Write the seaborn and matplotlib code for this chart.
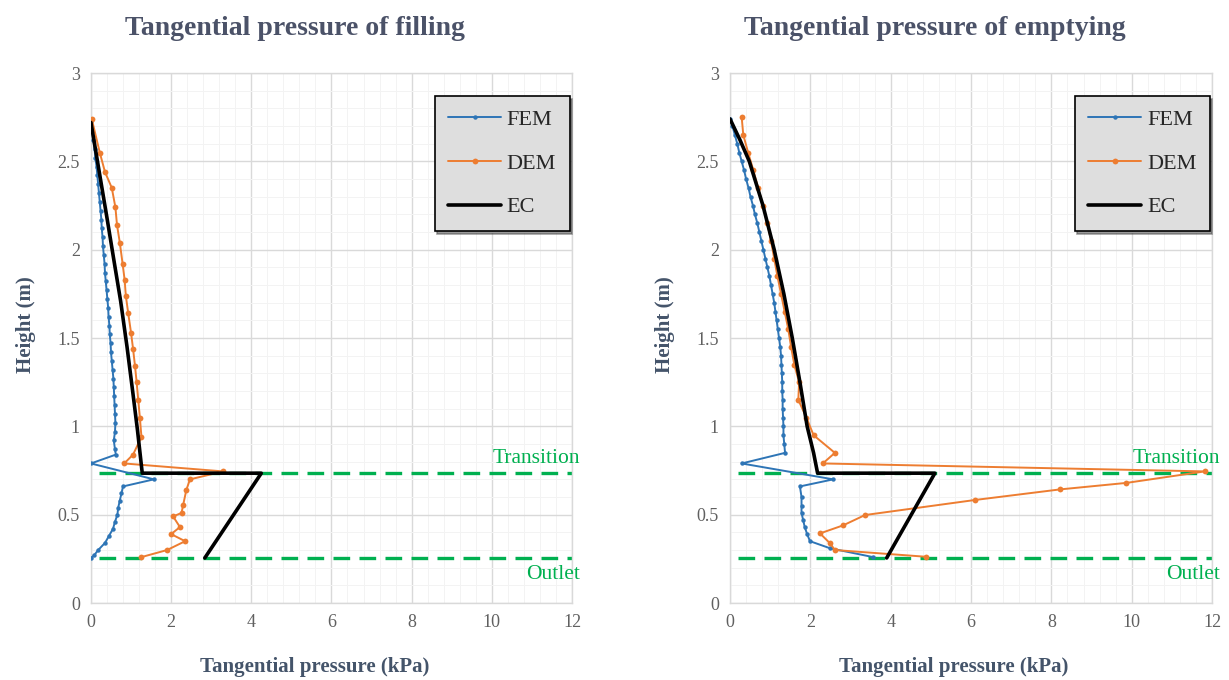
import numpy as np
import matplotlib
matplotlib.use("Agg")
import matplotlib.pyplot as plt
from matplotlib.ticker import MultipleLocator, FuncFormatter
import seaborn as sns

# ---- data (pressure in kPa, height in m) ----
# filling
fill_fem_p = [0.00, 0.03, 0.06, 0.09, 0.11, 0.14, 0.16, 0.18, 0.20, 0.22, 0.24, 0.26, 0.27,
              0.29, 0.30, 0.32, 0.34, 0.35, 0.37, 0.39, 0.41, 0.43, 0.44, 0.46, 0.47, 0.49,
              0.50, 0.52, 0.54, 0.56, 0.57, 0.58, 0.59, 0.60, 0.61, 0.60, 0.57, 0.60, 0.62,
              0.00, 1.57, 0.80, 0.76, 0.72, 0.68, 0.66, 0.60, 0.55, 0.45, 0.35, 0.18, 0.08, 0.00]
fill_fem_h = [2.72, 2.67, 2.62, 2.57, 2.52, 2.47, 2.42, 2.37, 2.32, 2.27, 2.22, 2.17, 2.12,
              2.07, 2.02, 1.97, 1.92, 1.87, 1.82, 1.77, 1.72, 1.67, 1.62, 1.57, 1.52, 1.47,
              1.42, 1.37, 1.32, 1.27, 1.22, 1.17, 1.12, 1.07, 1.02, 0.97, 0.92, 0.87, 0.84,
              0.79, 0.70, 0.66, 0.62, 0.58, 0.54, 0.50, 0.46, 0.42, 0.38, 0.34, 0.30, 0.27, 0.255]

fill_dem_p = [0.02, 0.22, 0.35, 0.52, 0.61, 0.65, 0.72, 0.79, 0.84, 0.87, 0.93, 1.00, 1.05,
              1.10, 1.14, 1.18, 1.22, 1.26, 1.05, 0.83, 3.30, 2.47, 2.38, 2.30, 2.26, 2.05,
              2.22, 2.00, 2.35, 1.90, 1.26]
fill_dem_h = [2.74, 2.55, 2.44, 2.35, 2.24, 2.14, 2.04, 1.92, 1.83, 1.74, 1.64, 1.53, 1.44,
              1.34, 1.25, 1.15, 1.05, 0.94, 0.84, 0.79, 0.745, 0.70, 0.64, 0.555, 0.51, 0.49,
              0.43, 0.39, 0.35, 0.30, 0.26]

fill_ec_p = [0.00, 0.20, 0.40, 0.58, 0.74, 0.90, 1.04, 1.16, 1.28, 4.25, 2.84]
fill_ec_h = [2.72, 2.45, 2.18, 1.93, 1.71, 1.45, 1.20, 0.98, 0.735, 0.735, 0.255]

# emptying
empt_fem_p = [0.00, 0.06, 0.12, 0.18, 0.23, 0.29, 0.35, 0.40, 0.46, 0.51, 0.57, 0.62, 0.68,
              0.73, 0.78, 0.83, 0.88, 0.93, 0.98, 1.02, 1.06, 1.10, 1.13, 1.16, 1.19, 1.22,
              1.25, 1.27, 1.28, 1.29, 1.30, 1.30, 1.31, 1.31, 1.32, 1.33, 1.33, 1.35, 1.37,
              0.29, 2.57, 1.74, 1.78, 1.78, 1.78, 1.82, 1.86, 1.92, 1.99, 2.49, 3.56]
empt_fem_h = [2.74, 2.70, 2.65, 2.60, 2.55, 2.50, 2.45, 2.40, 2.35, 2.30, 2.25, 2.20, 2.15,
              2.10, 2.05, 2.00, 1.95, 1.90, 1.85, 1.80, 1.75, 1.70, 1.65, 1.60, 1.55, 1.50,
              1.45, 1.40, 1.35, 1.30, 1.25, 1.20, 1.15, 1.10, 1.05, 1.00, 0.95, 0.90, 0.85,
              0.79, 0.70, 0.66, 0.60, 0.55, 0.51, 0.47, 0.43, 0.39, 0.35, 0.31, 0.26]

empt_dem_p = [0.29, 0.33, 0.45, 0.58, 0.70, 0.82, 0.93, 1.02, 1.10, 1.18, 1.27, 1.36, 1.45,
              1.52, 1.60, 1.72, 1.70, 1.90, 2.08, 2.61, 2.31, 11.82, 9.87, 8.21, 6.09, 3.36,
              2.82, 2.24, 2.49, 2.61, 4.87]
empt_dem_h = [2.75, 2.65, 2.55, 2.45, 2.35, 2.25, 2.15, 2.05, 1.95, 1.85, 1.75, 1.65, 1.55,
              1.45, 1.35, 1.25, 1.15, 1.05, 0.95, 0.85, 0.79, 0.745, 0.68, 0.643, 0.583, 0.498,
              0.44, 0.394, 0.338, 0.30, 0.262]

empt_ec_p = [0.00, 0.25, 0.48, 0.82, 1.10, 1.34, 1.55, 1.74, 1.92, 2.08, 2.18, 5.10, 3.90]
empt_ec_h = [2.74, 2.62, 2.50, 2.25, 2.00, 1.75, 1.50, 1.25, 1.00, 0.85, 0.735, 0.735, 0.255]

transition_h = 0.735
outlet_h = 0.255
titles = ["Tangential pressure of filling", "Tangential pressure of emptying"]

# ---- style ----
sns.set_theme(style="white")
plt.rcParams['font.family'] = ['Liberation Serif', 'DejaVu Serif']

BLUE = '#2E75B6'
ORANGE = '#ED7D31'
GREEN = '#00B050'
TITLE_C = '#4B5268'
LABEL_C = '#44546A'
TICK_C = '#606060'

fig = plt.figure(figsize=(12.29, 6.8), dpi=100)
ax_l = fig.add_axes([0.074, 0.1132, 0.3914, 0.7794])
ax_r = fig.add_axes([0.594, 0.1132, 0.3922, 0.7794])

panels = [
    (ax_l, fill_fem_p, fill_fem_h, fill_dem_p, fill_dem_h, fill_ec_p, fill_ec_h),
    (ax_r, empt_fem_p, empt_fem_h, empt_dem_p, empt_dem_h, empt_ec_p, empt_ec_h),
]

for i, (ax, fp, fh, dp, dh, ep, eh) in enumerate(panels):
    ax.set_xlim(0, 12)
    ax.set_ylim(0, 3)
    ax.xaxis.set_major_locator(MultipleLocator(2))
    ax.xaxis.set_minor_locator(MultipleLocator(0.4))
    ax.yaxis.set_major_locator(MultipleLocator(0.5))
    ax.yaxis.set_minor_locator(MultipleLocator(0.1))
    ax.yaxis.set_major_formatter(FuncFormatter(lambda v, _: f"{v:g}"))
    ax.grid(which='major', color='#d9d9d9', linewidth=1.0)
    ax.grid(which='minor', color='#f3f3f3', linewidth=0.7)
    ax.set_axisbelow(True)
    for s in ax.spines.values():
        s.set_color('#d9d9d9')
        s.set_linewidth(1.0)
    ax.tick_params(which='both', length=0, labelsize=13, labelcolor=TICK_C, pad=8)

    # dashed reference levels
    for yy in (transition_h, outlet_h):
        ax.plot([0.2, 12], [yy, yy], color=GREEN, lw=2.4, dashes=(5, 2.8),
                zorder=1, clip_on=False)

    sns.lineplot(x=fp, y=fh, ax=ax, sort=False, estimator=None, color=BLUE,
                 lw=1.4, marker='o', markersize=3.2, markeredgewidth=0, label='FEM', zorder=3)
    sns.lineplot(x=dp, y=dh, ax=ax, sort=False, estimator=None, color=ORANGE,
                 lw=1.4, marker='o', markersize=4.2, markeredgewidth=0, label='DEM', zorder=3)
    sns.lineplot(x=ep, y=eh, ax=ax, sort=False, estimator=None, color='black',
                 lw=2.6, label='EC', zorder=4)

    ax.text(12.2, transition_h + 0.03, "Transition", color=GREEN, fontsize=15.5,
            ha='right', va='bottom', clip_on=False)
    ax.text(12.2, outlet_h - 0.04, "Outlet", color=GREEN, fontsize=15.5,
            ha='right', va='top', clip_on=False)

    ax.set_xlabel("Tangential pressure (kPa)", fontsize=15, fontweight='bold', color=LABEL_C)
    ax.set_ylabel("Height (m)", fontsize=15, fontweight='bold', color=LABEL_C)
    ax.xaxis.set_label_coords(0.465, -0.102)
    ax.yaxis.set_label_coords(-0.115, 0.525)

    leg = ax.legend(loc='upper right', bbox_to_anchor=(0.995, 0.957), fontsize=16,
                    frameon=True, fancybox=False, shadow=True, labelspacing=1.05,
                    handlelength=2.4, handletextpad=0.25, borderpad=0.6, borderaxespad=0)
    leg.get_frame().set_facecolor('#dedede')
    leg.get_frame().set_edgecolor('black')
    leg.get_frame().set_linewidth(1.2)
    leg.get_frame().set_alpha(1)

fig.text(0.24, 0.958, titles[0], fontsize=20, fontweight='bold', color=TITLE_C,
         ha='center', va='center')
fig.text(0.761, 0.958, titles[1], fontsize=20, fontweight='bold', color=TITLE_C,
         ha='center', va='center')

fig.savefig('out.png', dpi=100, facecolor='white')
